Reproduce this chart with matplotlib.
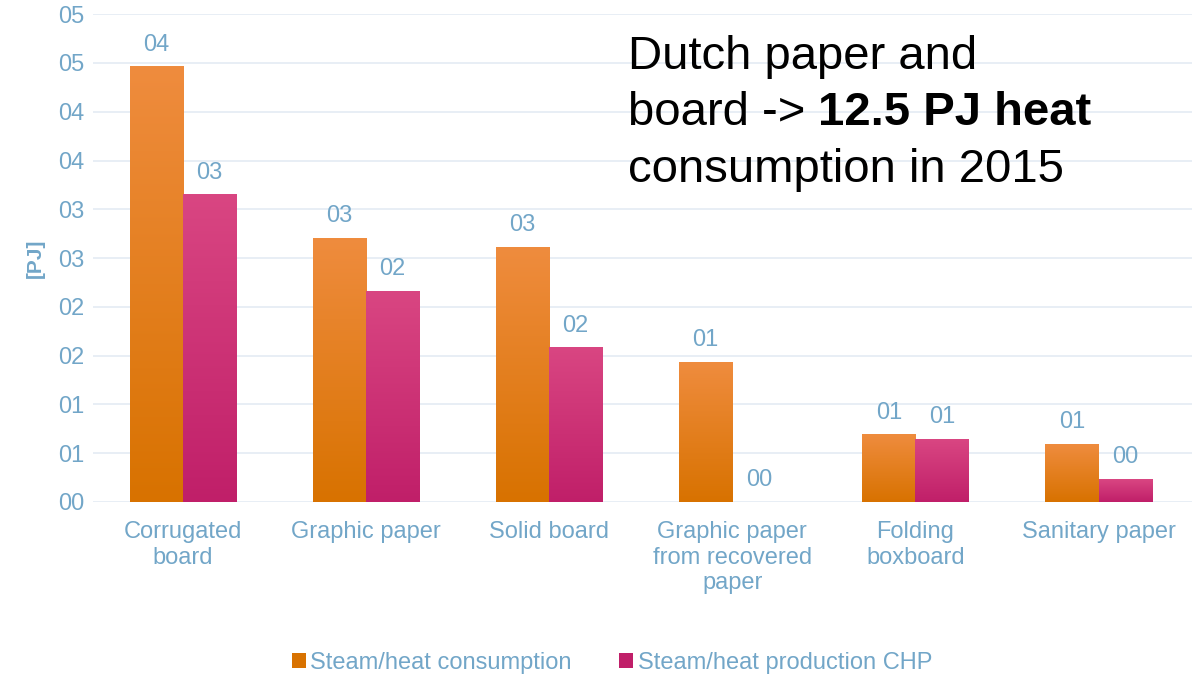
import numpy as np
import matplotlib.pyplot as plt
from matplotlib.patches import Patch
from matplotlib.colors import LinearSegmentedColormap

plt.rcParams['font.family'] = ['Liberation Sans', 'DejaVu Sans']

categories = ['Corrugated\nboard', 'Graphic paper', 'Solid board',
              'Graphic paper\nfrom recovered\npaper', 'Folding\nboxboard', 'Sanitary paper']
consumption = [4.46, 2.70, 2.61, 1.43, 0.69, 0.59]
chp = [3.15, 2.16, 1.58, 0.0, 0.64, 0.23]
series_names = ['Steam/heat consumption', 'Steam/heat production CHP']

txt = '#72A6C8'
orange = ('#EF8C3E', '#D87200')
pink = ('#D94682', '#C01F69')


def lab(v):
    return '%02d' % int(np.floor(v + 0.5))


fig = plt.figure(figsize=(11.92, 6.76), dpi=100)
ax = fig.add_axes([0.078, 0.2574, 0.922, 0.7216])

x = np.arange(len(categories))
w = 0.29
grad = np.linspace(0, 1, 256).reshape(-1, 1)

for vals, off, cols in [(consumption, -w / 2, orange), (chp, w / 2, pink)]:
    bars = ax.bar(x + off, vals, w, color=cols[1], zorder=2)
    cmap = LinearSegmentedColormap.from_list('g', [cols[1], cols[0]])
    for b, v in zip(bars, vals):
        if b.get_height() > 0:
            ax.imshow(grad, cmap=cmap, aspect='auto', origin='lower', zorder=3,
                      extent=[b.get_x(), b.get_x() + b.get_width(), 0, b.get_height()])
        ax.annotate(lab(v), (b.get_x() + b.get_width() / 2, b.get_height()),
                    xytext=(0, 8), textcoords='offset points', ha='center', va='bottom',
                    fontsize=17, color=txt)

ax.set_xlim(-0.49, 5.51)
ax.set_ylim(0, 5)
yt = np.arange(0, 5.01, 0.5)
ax.set_yticks(yt)
ax.set_yticklabels([lab(v) for v in yt])
ax.set_xticks(x)
ax.set_xticklabels(categories, linespacing=1.2)
ax.tick_params(axis='both', length=0, labelsize=17, labelcolor=txt)
ax.tick_params(axis='y', pad=6)
ax.tick_params(axis='x', pad=14)
ax.grid(axis='y', color='#E6EDF4', linewidth=1.3, zorder=0)
ax.set_axisbelow(True)
for s in ax.spines.values():
    s.set_visible(False)
ax.set_ylabel('[PJ]', fontsize=15, fontweight='bold', color=txt, labelpad=10)

# headline text
t1 = fig.text(628 / 1192, 1 - 57 / 676, 'Dutch paper and', fontsize=34, va='center')
t2 = fig.text(628 / 1192, 1 - 113 / 676, 'board -> ', fontsize=34, va='center')
ax.annotate('12.5 PJ heat', xy=(1, 0.5), xycoords=t2, va='center', ha='left',
            fontsize=34, fontweight='bold')
fig.text(628 / 1192, 1 - 170 / 676, 'consumption in 2015', fontsize=34, va='center')

handles = [Patch(facecolor=orange[1]), Patch(facecolor=pink[1])]
fig.legend(handles, series_names, loc='center', bbox_to_anchor=(612 / 1192, 1 - 663 / 676),
           ncol=2, frameon=False, fontsize=17, labelcolor=txt, handlelength=0.6,
           handleheight=0.6, handletextpad=0.2, columnspacing=2.0)

fig.savefig('out.png', dpi=100)
